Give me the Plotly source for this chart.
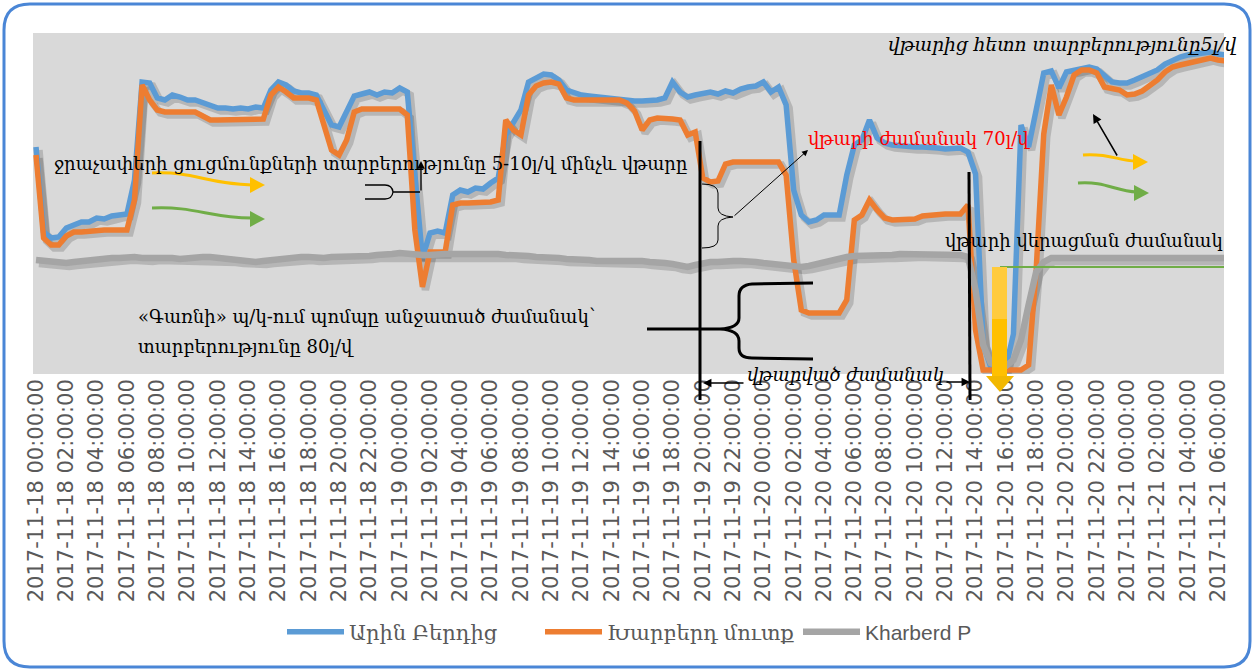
import pandas as pd
import plotly.graph_objects as go

# ---------------- data ----------------
start = "2017-11-18 00:00:00"
times = pd.date_range(start, periods=158, freq="30min")

arin_berdits = [
    227, 142, 136, 137, 146, 149, 152, 152, 156, 155,
    158, 159, 160, 194, 292, 291, 276, 274, 279, 277,
    274, 274, 271, 268, 266, 266, 265, 266, 265, 267,
    266, 284, 292, 289, 283, 281, 281, 279, 264, 249,
    247, 264, 278, 280, 282, 279, 282, 281, 286, 282,
    204, 116, 141, 143, 141, 179, 184, 182, 186, 185,
    191, 196, 239, 251, 264, 292, 296, 300, 299, 294,
    284, 281, 279, 278, 277, 276, 275, 274, 273, 273,
    273, 273, 274, 276, 292, 282, 277, 279, 280, 282,
    280, 283, 281, 285, 287, 288, 292, 282, 287, 269,
    184, 159, 152, 154, 159, 159, 159, 199, 229, 234,
    254, 236, 231, 229, 228, 227, 227, 227, 227, 226,
    225, 225, 226, 222, 200, 30, 7, 7, 7, 40,
    249, 227, 264, 301, 303, 286, 302, 304, 306, 307,
    305, 299, 292, 291, 291, 294, 297, 300, 304, 310,
    314, 317, 319, 320, 322, 322, 320, 319,
]

kharberd_mutq = [
    219, 136, 129, 129, 138, 142, 142, 143, 143, 144,
    144, 144, 144, 174, 289, 274, 264, 262, 262, 262,
    263, 262, 258, 254, 254, 254, 254, 254, 254, 254,
    255, 279, 287, 282, 276, 276, 276, 274, 249, 224,
    219, 234, 262, 265, 265, 265, 265, 265, 265, 259,
    144, 87, 122, 122, 122, 169, 171, 171, 171, 171,
    172, 174, 254, 244, 239, 279, 288, 291, 292, 290,
    276, 274, 274, 274, 274, 274, 274, 274, 271, 263,
    244, 254, 256, 256, 255, 254, 239, 242, 196, 192,
    193, 210, 212, 212, 212, 212, 212, 212, 212, 199,
    114, 64, 61, 61, 61, 61, 61, 74, 154, 159,
    174, 164, 156, 154, 154, 155, 155, 158, 159, 160,
    160, 160, 160, 169, 44, 4, 4, 4, 4, 4,
    4, 9, 104, 240, 289, 259, 277, 299, 304, 304,
    301, 287, 285, 284, 279, 280, 283, 288, 294, 302,
    307, 309, 311, 312, 315, 316, 314, 313,
]

kharberd_p = [
    114, 113, 112, 111, 111, 112, 113, 114, 114,
    115, 116, 116, 117, 117, 116, 116, 117, 117, 116,
    115, 116, 116, 117, 117, 116, 116, 115, 114, 113,
    112, 113, 114, 115, 116, 116, 117, 117, 116, 116, 117,
    117, 117, 118, 118, 118, 119, 119, 120, 121, 120,
    119, 119, 119, 120, 120, 120, 120, 120, 120, 121, 121,
    120, 119, 119, 118, 118, 117, 117, 116, 116, 115,
    115, 114, 114, 113, 113, 113, 114, 114, 113, 113,
    112, 112, 111, 110, 108, 107,
    109, 111, 112, 112, 113, 113, 113, 113, 112, 111,
    110, 109, 108, 107, 107,
    108, 110, 112, 114, 116, 117, 118, 118, 119, 119,
    119, 119, 120, 120, 120, 120, 120, 120, 119, 119, 119, 117,
    84, 29, 11, 8, 8, 14, 34,
    69, 102, 112, 116, 116, 116, 115, 115, 115, 116,
    116, 116, 116, 116, 116, 116, 116, 116, 116, 116,
    116, 116, 116, 116, 116, 116, 116,
]

series_names = ["Արին Բերդից", "Խարբերդ մուտք", "Kharberd P"]
series_values = [arin_berdits, kharberd_mutq, kharberd_p]
series_colors = ["#5B9BD5", "#ED7D31", "#A5A5A5"]
series_widths = [5.5, 5.5, 6.5]

tick_times = pd.date_range(start, "2017-11-21 06:00:00", freq="2h")
tick_labels = [t.strftime("%Y-%m-%d %H:%M:%S") for t in tick_times]

# ---------------- geometry ----------------
W, H = 1254, 671
PLOT_L_REF, PLOT_R_REF, PLOT_T_REF, PLOT_B_REF = 33, 1224, 33, 374
ML = PLOT_L_REF
MT = PLOT_T_REF
MR = W - PLOT_R_REF
MB = H - PLOT_B_REF
PW = PLOT_R_REF - PLOT_L_REF
PH = PLOT_B_REF - PLOT_T_REF
PX_PER_HOUR = 15.154
X0_PX = 36  # pixel of first tick
t0 = pd.Timestamp(start)


def px(x):
    return (x - PLOT_L_REF) / PW


def py(y):
    return (PLOT_B_REF - y) / PH


def hours_at(xpix):
    return t0 + pd.Timedelta(hours=(xpix - X0_PX) / PX_PER_HOUR)


def path(cmds):
    out = []
    for c, pts in cmds:
        s = c
        for (x, y) in pts:
            s += f" {px(x):.5f},{py(y):.5f}"
        out.append(s)
    return " ".join(out)


ARM = "DejaVu Serif"
SHADOW = 3

fig = go.Figure()

# shadows (base axes, shifted ranges)
for vals, w in zip(series_values, series_widths):
    fig.add_trace(go.Scatter(
        x=times, y=vals, mode="lines", xaxis="x", yaxis="y",
        line=dict(color="rgba(0,0,0,0.16)", width=w + 2),
        showlegend=False, hoverinfo="skip",
    ))

# main series
for name, vals, col, w in zip(series_names, series_values, series_colors, series_widths):
    fig.add_trace(go.Scatter(
        x=times, y=vals, mode="lines", name=name, xaxis="x2", yaxis="y2",
        line=dict(color=col, width=w),
    ))

true_range = [hours_at(PLOT_L_REF), hours_at(PLOT_R_REF)]
shift_range = [hours_at(PLOT_L_REF - SHADOW), hours_at(PLOT_R_REF - SHADOW)]

shapes = []
# rounded outer border
x0b, y0b, x1b, y1b, r = 4, 4, 1250, 667, 26
shapes.append(dict(
    type="path", xref="paper", yref="paper", layer="above",
    path=path([
        ("M", [(x0b + r, y0b)]), ("L", [(x1b - r, y0b)]), ("Q", [(x1b, y0b), (x1b, y0b + r)]),
        ("L", [(x1b, y1b - r)]), ("Q", [(x1b, y1b), (x1b - r, y1b)]),
        ("L", [(x0b + r, y1b)]), ("Q", [(x0b, y1b), (x0b, y1b - r)]),
        ("L", [(x0b, y0b + r)]), ("Q", [(x0b, y0b), (x0b + r, y0b)]), ("Z", []),
    ]),
    line=dict(color="#4A86D6", width=3),
))

# green horizontal line
shapes.append(dict(type="line", xref="paper", yref="paper", x0=px(1000), x1=px(1224), y0=py(267), y1=py(267),
                   line=dict(color="#70AD47", width=2)))

# yellow down arrow
shapes.append(dict(type="rect", xref="paper", yref="paper", x0=px(992), x1=px(1007), y0=py(267), y1=py(320),
                   fillcolor="#FFCB3D", line=dict(width=0)))
shapes.append(dict(type="rect", xref="paper", yref="paper", x0=px(992), x1=px(1007), y0=py(319), y1=py(377),
                   fillcolor="#FFC000", line=dict(width=0)))
shapes.append(dict(type="path", xref="paper", yref="paper",
                   path=path([("M", [(986, 376)]), ("L", [(1014, 376)]), ("L", [(1000, 392)]), ("Z", [])]),
                   fillcolor="#F2B800", line=dict(width=0)))

# black vertical lines
shapes.append(dict(type="line", xref="paper", yref="paper", x0=px(700), x1=px(700), y0=py(141), y1=py(400),
                   line=dict(color="black", width=3)))
shapes.append(dict(type="line", xref="paper", yref="paper", x0=px(969), x1=px(970), y0=py(172), y1=py(400),
                   line=dict(color="black", width=3)))

# thin brace near the first vertical line
shapes.append(dict(type="path", xref="paper", yref="paper",
                   path=path([("M", [(702, 184)]), ("Q", [(718, 184), (718, 193)]), ("L", [(718, 208)]),
                              ("Q", [(718, 216), (733, 217)]), ("Q", [(718, 218), (718, 226)]),
                              ("L", [(718, 240)]), ("Q", [(718, 248), (702, 248)])]),
                   line=dict(color="black", width=1)))

# thick brace
shapes.append(dict(type="path", xref="paper", yref="paper",
                   path=path([("M", [(813, 283)]), ("L", [(752, 284)]), ("Q", [(739, 285), (739, 296)]),
                              ("L", [(739, 318)]), ("Q", [(739, 328), (720, 329)]), ("L", [(647, 329)]),
                              ("M", [(720, 329)]), ("Q", [(739, 330), (739, 341)]), ("L", [(739, 348)]),
                              ("Q", [(739, 358), (752, 358)]), ("L", [(813, 359)])]),
                   line=dict(color="black", width=3)))

# small brace with line
shapes.append(dict(type="path", xref="paper", yref="paper",
                   path=path([("M", [(365, 185)]), ("L", [(385, 185)]), ("Q", [(392, 185), (393, 192)]),
                              ("L", [(420, 192)]), ("M", [(393, 192)]), ("Q", [(392, 199), (385, 199)]),
                              ("L", [(365, 199)])]),
                   line=dict(color="black", width=1.3)))


# curvy yellow / green arrows
def curvy(p0, c1, c2, p1, tip, col):
    shapes.append(dict(type="path", xref="paper", yref="paper",
                       path=path([("M", [p0]), ("C", [c1, c2, p1])]),
                       line=dict(color=col, width=3)))
    tx, ty = tip
    shapes.append(dict(type="path", xref="paper", yref="paper",
                       path=path([("M", [(tx - 15, ty - 8)]), ("L", [(tx, ty)]), ("L", [(tx - 15, ty + 8)]), ("Z", [])]),
                       fillcolor=col, line=dict(width=0)))


curvy((152, 173), (195, 171), (205, 184), (252, 185), (265, 185), "#FFC000")
curvy((152, 208), (195, 206), (210, 218), (252, 218), (265, 219), "#70AD47")
curvy((1083, 155), (1110, 153), (1118, 161), (1136, 161), (1148, 162), "#FFC000")
curvy((1078, 183), (1105, 181), (1115, 191), (1137, 192), (1149, 193), "#70AD47")

annotations = []


def txt(s, x, y, size=18, color="black", xanchor="left"):
    annotations.append(dict(text=s, x=px(x), y=py(y), xref="paper", yref="paper",
                            xanchor=xanchor, yanchor="middle", showarrow=False,
                            font=dict(family=ARM, size=size, color=color)))


def arrow(x0, y0, x1, y1, width=1.5, size=1.0):
    annotations.append(dict(text="", x=px(x1), y=py(y1), xref="paper", yref="paper",
                            ax=x0 - x1, ay=y0 - y1, axref="pixel", ayref="pixel",
                            showarrow=True, arrowhead=2, arrowwidth=width, arrowsize=size,
                            arrowcolor="black", standoff=0))


txt("ջրաչափերի ցուցմունքների տարբերությունը 5-10լ/վ մինչև վթարը", 52, 163)
txt("«Գառնի» պ/կ-ում պոմպը անջատած ժամանակ՝", 136, 316)
txt("տարբերությունը 80լ/վ", 136, 346)
txt("վթարի ժամանակ 70լ/վ", 806, 138, color="#FF0000")
txt("վթարի վերացման ժամանակ", 1225, 240, xanchor="right")
txt("<i>վթարից հետո տարբերությունը5լ/վ</i>", 886, 45, size=18.6)
txt("<i>վթարված ժամանակ</i>", 745, 374)

arrow(733, 217, 808, 150, width=1, size=1.2)
arrow(421, 192, 421, 161, width=1.3, size=1.2)
arrow(1118, 157, 1093, 114, width=1.5, size=1.2)
arrow(745, 383, 703, 383, width=1.3, size=1.3)
arrow(945, 382, 970, 382, width=1.3, size=1.3)

fig.update_layout(
    width=W, height=H,
    margin=dict(l=ML, r=MR, t=MT, b=MB, autoexpand=False),
    paper_bgcolor="white",
    plot_bgcolor="#D9D9D9",
    xaxis=dict(range=shift_range, visible=False),
    yaxis=dict(range=[SHADOW, PH + SHADOW], visible=False),
    xaxis2=dict(
        range=true_range, overlaying="x", anchor="y2", side="bottom",
        type="date", tickmode="array", tickvals=list(tick_times), ticktext=tick_labels,
        tickangle=-90, ticks="", showgrid=False, zeroline=False, showline=False,
        tickfont=dict(family="DejaVu Sans", size=21, color="#595959"),
        automargin=False,
    ),
    yaxis2=dict(range=[0, PH], overlaying="y", anchor="x2", visible=False),
    showlegend=True,
    legend=dict(
        orientation="h", x=px(282), xanchor="left", y=py(632), yanchor="middle",
        font=dict(family="Liberation Sans, DejaVu Serif", size=21, color="#595959"),
        itemwidth=57, entrywidth=186, entrywidthmode="pixels", bgcolor="rgba(0,0,0,0)",
    ),
    shapes=shapes,
    annotations=annotations,
)

# remove the browser's default 8px page margin so the figure fills the window exactly
fig.write_html(
    "out.html",
    config={"displayModeBar": False},
    post_script="document.body.style.margin='0';document.body.style.overflow='hidden';",
)
